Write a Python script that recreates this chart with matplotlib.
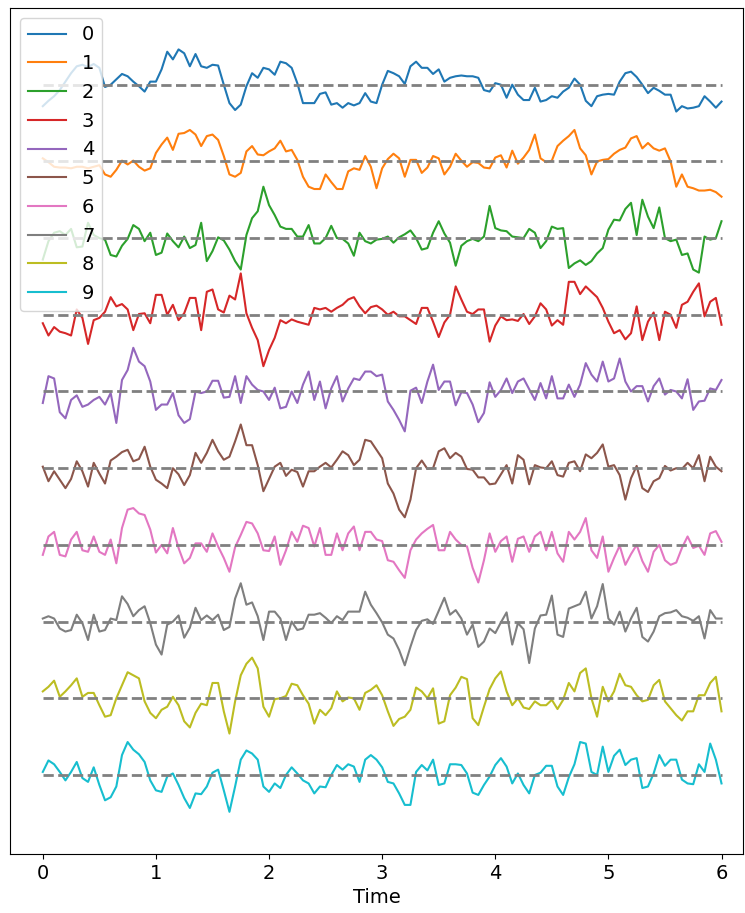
# Senales apiladas en el tiempo
# Cada canal desplazado hacia abajo con su linea base

import numpy as np
import matplotlib.pyplot as plt

# Datos (paso de 0.05 s)

tiempo = np.linspace(0, 6, 121)

canal_0 = [-0.28, -0.21, -0.15, -0.07, 0.04, 0.15, 0.24, 0.26, 0.23, 0.27,
           0.22, -0.03, 0.0, 0.07, 0.14, 0.11, 0.04, -0.02, -0.09, 0.04,
           0.04, 0.2, 0.43, 0.33, 0.46, 0.41, 0.24, 0.4, 0.24, 0.22,
           0.26, 0.25, 0.0, -0.24, -0.33, -0.26, -0.02, 0.15, 0.09, 0.22,
           0.2, 0.13, 0.3, 0.28, 0.22, 0.02, -0.24, -0.24, -0.24, -0.12,
           -0.1, -0.26, -0.24, -0.3, -0.24, -0.27, -0.24, -0.11, -0.22, -0.24,
           0.0,
           0.18, 0.15, 0.11, 0.01, 0.24, 0.3, 0.22, 0.22, 0.14, 0.2,
           0.04, 0.09, 0.11, 0.12, 0.11, 0.11, 0.09, -0.07, -0.09, 0.02,
           0.0, -0.17, 0.0, -0.13, -0.2, -0.2, -0.04, -0.22, -0.2, -0.15,
           -0.17, -0.09, -0.04, 0.08, 0.0, -0.21, -0.28, -0.15, -0.13, -0.12,
           -0.13, 0.04, 0.15, 0.17, 0.1, 0.0, -0.11, -0.04, -0.08, -0.13,
           -0.13, -0.35, -0.28, -0.31, -0.3, -0.28, -0.15, -0.22, -0.3, -0.22]

canal_1 = [0.04, -0.01, -0.07, -0.08, -0.08, -0.09, -0.07, -0.07, -0.09, -0.07,
           -0.05, -0.17, -0.2, -0.11, 0.01, -0.04, 0.01, -0.07, -0.12, -0.09,
           0.11, 0.22, 0.31, 0.15, 0.36, 0.37, 0.41, 0.35, 0.2, 0.33,
           0.35, 0.28, 0.07, -0.17, -0.2, -0.15, 0.13, 0.2, 0.09, 0.08,
           0.13, 0.17, 0.27, 0.13, 0.15, 0.02, -0.2, -0.33, -0.36, -0.36,
           -0.17, -0.27, -0.36, -0.36, -0.13, -0.09, -0.11, 0.07, -0.07, -0.35,
           -0.09,
           0.03, 0.1, 0.04, -0.2, 0.02, 0.02, -0.15, -0.08, 0.07, 0.04,
           -0.17, -0.07, 0.1, 0.01, -0.07, -0.01, -0.02, -0.08, -0.09, 0.05,
           0.08, -0.08, 0.14, -0.03, 0.05, 0.15, 0.35, 0.04, -0.01, 0.01,
           0.2, 0.27, 0.33, 0.41, 0.17, 0.08, -0.17, 0.0, 0.02, 0.03,
           0.1, 0.15, 0.18, 0.3, 0.33, 0.17, 0.24, 0.17, 0.14, 0.17,
           0.0, -0.33, -0.17, -0.33, -0.35, -0.38, -0.38, -0.37, -0.4, -0.46]

canal_2 = [-0.28, -0.04, 0.07, 0.09, 0.04, 0.12, -0.12, -0.11, 0.2, 0.04,
           0.0, -0.02, -0.22, -0.24, -0.1, -0.01, 0.17, 0.12, -0.04, 0.07,
           -0.22, -0.19, 0.06, -0.04, -0.12, 0.02, -0.13, -0.09, 0.2, -0.3,
           -0.17, 0.01, -0.03, -0.15, -0.3, -0.41, 0.04, 0.26, 0.35, 0.67,
           0.43, 0.3, 0.15, 0.12, 0.12, 0.02, 0.02, 0.17, -0.07, -0.07,
           0.0, 0.16, 0.0, -0.01, -0.07, -0.23, 0.07, -0.04, -0.07, -0.02,
           -0.01,
           0.02, -0.06, 0.01, 0.05, 0.1, 0.0, -0.15, -0.13, 0.07, 0.22,
           0.06, -0.06, -0.36, -0.1, -0.04, -0.01, -0.04, 0.02, 0.42, 0.13,
           0.1, 0.09, 0.02, 0.01, 0.0, 0.12, 0.07, -0.13, -0.04, 0.15,
           0.12, 0.13, -0.39, -0.33, -0.29, -0.35, -0.3, -0.2, -0.13, 0.11,
           0.24, 0.23, 0.38, 0.46, 0.04, 0.5, 0.28, 0.13, 0.4, 0.0,
           -0.04, -0.02, -0.22, -0.2, -0.41, -0.45, 0.02, -0.02, 0.0, 0.22]

canal_3 = [-0.11, -0.27, -0.16, -0.22, -0.24, -0.27, 0.07, -0.04, -0.38, -0.07,
           -0.04, 0.04, 0.23, 0.11, 0.14, 0.07, -0.2, 0.01, 0.02, -0.11,
           0.26, 0.26, 0.0, 0.13, -0.07, 0.02, 0.22, 0.22, -0.2, 0.3,
           0.33, 0.07, 0.03, 0.25, 0.2, 0.54, 0.02, -0.17, -0.33, -0.67,
           -0.46, -0.3, -0.07, -0.11, -0.06, -0.09, -0.11, -0.13, 0.09, 0.07,
           0.09, 0.04, 0.09, 0.13, 0.2, 0.23, 0.11, 0.02, 0.1, 0.12,
           0.07,
           0.0, 0.04, -0.02, -0.02, -0.07, -0.12, 0.09, 0.09, -0.09, -0.29,
           -0.1, 0.0, 0.37, 0.2, 0.04, 0.01, 0.07, 0.07, -0.35, -0.14,
           -0.02, -0.07, -0.06, -0.08, 0.01, -0.12, -0.02, 0.15, 0.07, -0.14,
           -0.07, -0.13, 0.43, 0.43, 0.27, 0.37, 0.3, 0.23, 0.09, -0.09,
           -0.24, -0.2, -0.32, -0.24, 0.11, -0.33, -0.09, 0.03, -0.33, 0.04,
           0.0, -0.17, 0.13, 0.17, 0.3, 0.41, -0.02, 0.17, 0.22, -0.13]

canal_4 = [-0.15, 0.2, 0.17, -0.27, -0.35, -0.11, -0.05, -0.2, -0.17, -0.11,
           -0.07, -0.17, -0.02, -0.41, 0.15, 0.28, 0.57, 0.39, 0.33, 0.13,
           -0.24, -0.17, -0.17, -0.02, -0.31, -0.41, -0.36, 0.0, -0.02, 0.0,
           0.14, 0.14, -0.08, -0.07, 0.2, -0.15, 0.2, 0.09, 0.02, 0.0,
           -0.11, 0.05, -0.22, -0.2, 0.0, -0.15, 0.09, 0.26, -0.11, 0.13,
           -0.22, 0.04, 0.2, -0.13, 0.04, 0.17, 0.15, 0.26, 0.26, 0.2,
           0.22,
           -0.13, -0.24, -0.37, -0.52, 0.01, 0.05, -0.15, 0.13, 0.35, 0.02,
           0.13, 0.13, -0.18, -0.01, -0.02, -0.17, -0.4, -0.28, 0.12, -0.07,
           0.02, 0.17, -0.02, 0.13, 0.17, 0.03, -0.11, 0.11, -0.09, 0.2,
           -0.09, -0.09, 0.09, -0.07, 0.09, 0.37, 0.22, 0.13, 0.39, 0.13,
           0.17, 0.43, 0.13, 0.0, 0.07, 0.07, -0.13, 0.07, 0.17, -0.04,
           0.02, 0.0, -0.09, 0.16, -0.24, -0.13, -0.12, 0.04, 0.02, 0.15]

canal_5 = [0.02, -0.17, -0.04, -0.15, -0.26, -0.14, 0.09, -0.04, -0.24, 0.07,
           -0.07, -0.2, 0.1, 0.15, 0.21, 0.24, 0.09, 0.12, 0.28, 0.02,
           -0.15, -0.2, -0.26, 0.0, -0.08, -0.22, -0.09, 0.2, 0.07, 0.2,
           0.37, 0.22, 0.11, 0.15, 0.35, 0.57, 0.3, 0.3, 0.04, -0.3,
           -0.14, 0.02, 0.07, -0.1, -0.02, -0.05, -0.24, -0.04, -0.04, 0.02,
           0.07, 0.01, 0.11, 0.22, 0.17, 0.04, 0.11, 0.37, 0.35, 0.24,
           0.13,
           -0.2, -0.33, -0.54, -0.64, -0.41, 0.0, 0.1, -0.01, 0.0, 0.22,
           0.26, 0.13, 0.2, 0.15, -0.01, -0.02, -0.12, -0.12, -0.21, -0.2,
           -0.08, 0.04, -0.2, 0.17, 0.11, -0.21, 0.04, 0.01, 0.0, 0.09,
           -0.09, -0.11, 0.07, 0.09, -0.04, 0.18, 0.13, 0.2, 0.31, 0.02,
           0.04, -0.09, -0.41, -0.13, 0.03, -0.26, -0.31, -0.17, -0.13, 0.03,
           -0.03, 0.0, -0.01, 0.07, 0.0, 0.17, -0.17, 0.15, 0.02, -0.04]

canal_6 = [-0.13, 0.11, 0.17, -0.13, -0.15, 0.07, 0.17, -0.07, -0.09, 0.11,
           -0.09, -0.13, 0.07, -0.24, 0.22, 0.46, 0.48, 0.41, 0.39, 0.2,
           -0.1, 0.0, -0.11, 0.22, -0.04, -0.24, -0.17, 0.02, 0.02, -0.09,
           0.15, -0.02, -0.17, -0.35, -0.03, 0.13, 0.3, 0.28, 0.15, -0.07,
           -0.08, 0.11, -0.26, -0.07, 0.17, 0.04, 0.25, 0.22, -0.02, 0.22,
           -0.13, -0.13, 0.15, -0.07, 0.15, 0.24, -0.07, 0.17, 0.17, 0.07,
           0.05,
           -0.2, -0.22, -0.33, -0.43, -0.07, 0.07, 0.15, 0.21, 0.26, -0.07,
           -0.07, 0.17, 0.07, 0.0, -0.02, -0.3, -0.49, -0.2, 0.15, -0.09,
           0.05, 0.11, -0.22, 0.08, 0.11, -0.09, 0.11, 0.17, -0.07, 0.17,
           -0.11, -0.22, 0.17, 0.07, 0.17, 0.35, -0.07, -0.17, 0.11, -0.35,
           -0.17, -0.01, -0.26, -0.12, 0.0, -0.21, -0.35, -0.09, 0.0, -0.2,
           -0.26, -0.23, -0.04, 0.11, -0.04, -0.01, -0.13, 0.15, 0.18, 0.04]

canal_7 = [0.04, 0.07, 0.04, -0.09, -0.13, -0.11, 0.09, -0.02, -0.24, 0.09,
           -0.13, -0.11, 0.04, 0.02, 0.33, 0.23, 0.07, 0.15, 0.2, -0.02,
           -0.3, -0.43, -0.04, 0.0, 0.08, -0.21, -0.08, 0.18, 0.02, 0.08,
           0.02, 0.09, -0.11, -0.07, 0.3, 0.5, 0.22, 0.25, 0.07, -0.24,
           0.13, 0.13, 0.04, -0.24, 0.0, -0.11, -0.09, 0.09, 0.09, 0.11,
           0.05, -0.02, 0.07, 0.02, 0.13, 0.13, 0.13, 0.39, 0.22, 0.11,
           -0.01,
           -0.17, -0.22, -0.37, -0.57, -0.33, -0.11, 0.01, 0.03, -0.03, 0.14,
           0.31, 0.09, 0.15, 0.04, -0.17, -0.04, -0.33, -0.26, -0.09, -0.15,
           -0.01, 0.12, -0.3, -0.02, -0.1, -0.54, -0.09, 0.08, 0.09, 0.34,
           -0.17, -0.2, 0.17, 0.2, 0.23, 0.39, 0.04, 0.2, 0.49, 0.04,
           -0.04, 0.13, -0.13, 0.04, 0.18, -0.2, -0.26, -0.13, 0.07, 0.11,
           0.12, 0.15, 0.07, 0.05, 0.01, 0.07, -0.22, 0.15, 0.04, 0.04]

canal_8 = [0.09, 0.15, 0.23, 0.02, 0.09, 0.17, 0.26, 0.02, 0.07, 0.07,
           -0.09, -0.24, -0.22, 0.0, 0.17, 0.34, 0.3, 0.26, -0.04, -0.19,
           -0.26, -0.15, -0.11, 0.02, -0.09, -0.3, -0.38, -0.19, -0.07, -0.09,
           0.2, 0.2, -0.17, -0.46, -0.04, 0.3, 0.45, 0.53, 0.39, -0.11,
           -0.24, -0.01, 0.0, 0.03, 0.19, 0.17, 0.04, -0.07, -0.33, -0.15,
           -0.22, -0.13, 0.09, -0.04, 0.01, 0.0, -0.15, 0.07, 0.11, 0.17,
           0.04,
           -0.17, -0.36, -0.27, -0.24, -0.15, 0.14, 0.09, 0.0, 0.13, -0.33,
           -0.3, 0.04, 0.14, 0.28, 0.25, -0.26, -0.35, -0.11, 0.12, 0.26,
           0.35, 0.09, -0.09, 0.0, -0.12, -0.14, -0.04, -0.09, -0.09, -0.02,
           -0.14, -0.02, 0.2, 0.09, 0.33, 0.39, 0.0, -0.24, 0.15, -0.04,
           0.09, 0.32, 0.17, 0.15, 0.04, -0.04, -0.02, 0.17, 0.24, -0.04,
           -0.13, -0.22, -0.29, -0.17, -0.17, 0.04, 0.04, 0.2, 0.28, -0.17]

canal_9 = [0.04, 0.19, 0.14, 0.04, -0.07, 0.04, 0.17, -0.04, -0.09, 0.1,
           -0.13, -0.33, -0.29, -0.15, 0.26, 0.43, 0.33, 0.27, 0.17, -0.07,
           -0.2, -0.22, -0.02, 0.02, -0.13, -0.3, -0.43, -0.24, -0.25, -0.15,
           0.03, 0.07, -0.2, -0.48, -0.15, 0.2, 0.32, 0.28, 0.2, -0.15,
           -0.22, -0.11, -0.17, 0.0, 0.1, 0.02, -0.07, -0.11, -0.24, -0.15,
           -0.16, 0.0, 0.13, 0.07, 0.14, 0.11, -0.09, 0.2, 0.26, 0.2,
           0.1,
           -0.09, -0.11, -0.24, -0.39, -0.39, 0.04, 0.13, 0.06, 0.2, -0.13,
           -0.11, 0.14, 0.14, 0.13, 0.02, -0.23, -0.26, -0.13, -0.02, 0.13,
           0.22, 0.11, -0.11, 0.02, -0.13, -0.24, 0.0, 0.03, 0.12, 0.12,
           -0.15, -0.26, -0.03, 0.14, 0.43, 0.41, 0.04, 0.0, 0.37, 0.04,
           0.25, 0.33, 0.13, 0.2, 0.22, -0.17, -0.15, 0.02, 0.26, 0.12,
           0.2, 0.2, -0.06, -0.11, -0.12, 0.14, 0.04, 0.41, 0.2, -0.11]

canales = [canal_0, canal_1, canal_2, canal_3, canal_4,
           canal_5, canal_6, canal_7, canal_8, canal_9]
etiquetas = [str(i) for i in range(10)]

# Grafica

plt.rcParams['font.size'] = 14

fig = plt.figure(figsize=(7.45, 9.13), dpi=100)
ax = fig.add_axes([10 / 745, 59 / 913, 733 / 745, 846 / 913])

for i, senal in enumerate(canales):
    ax.plot(tiempo, np.array(senal) - i, label=etiquetas[i])
    ax.hlines(-i, tiempo[0], tiempo[-1], colors='gray', linestyles='--', lw=2)

ax.set_xlim(-0.29, 6.19)
ax.set_ylim(-10.03, 1.0)
ax.set_yticks([])
ax.set_xlabel('Time')
ax.legend(loc='upper left')

fig.savefig('out.png', dpi=100)
